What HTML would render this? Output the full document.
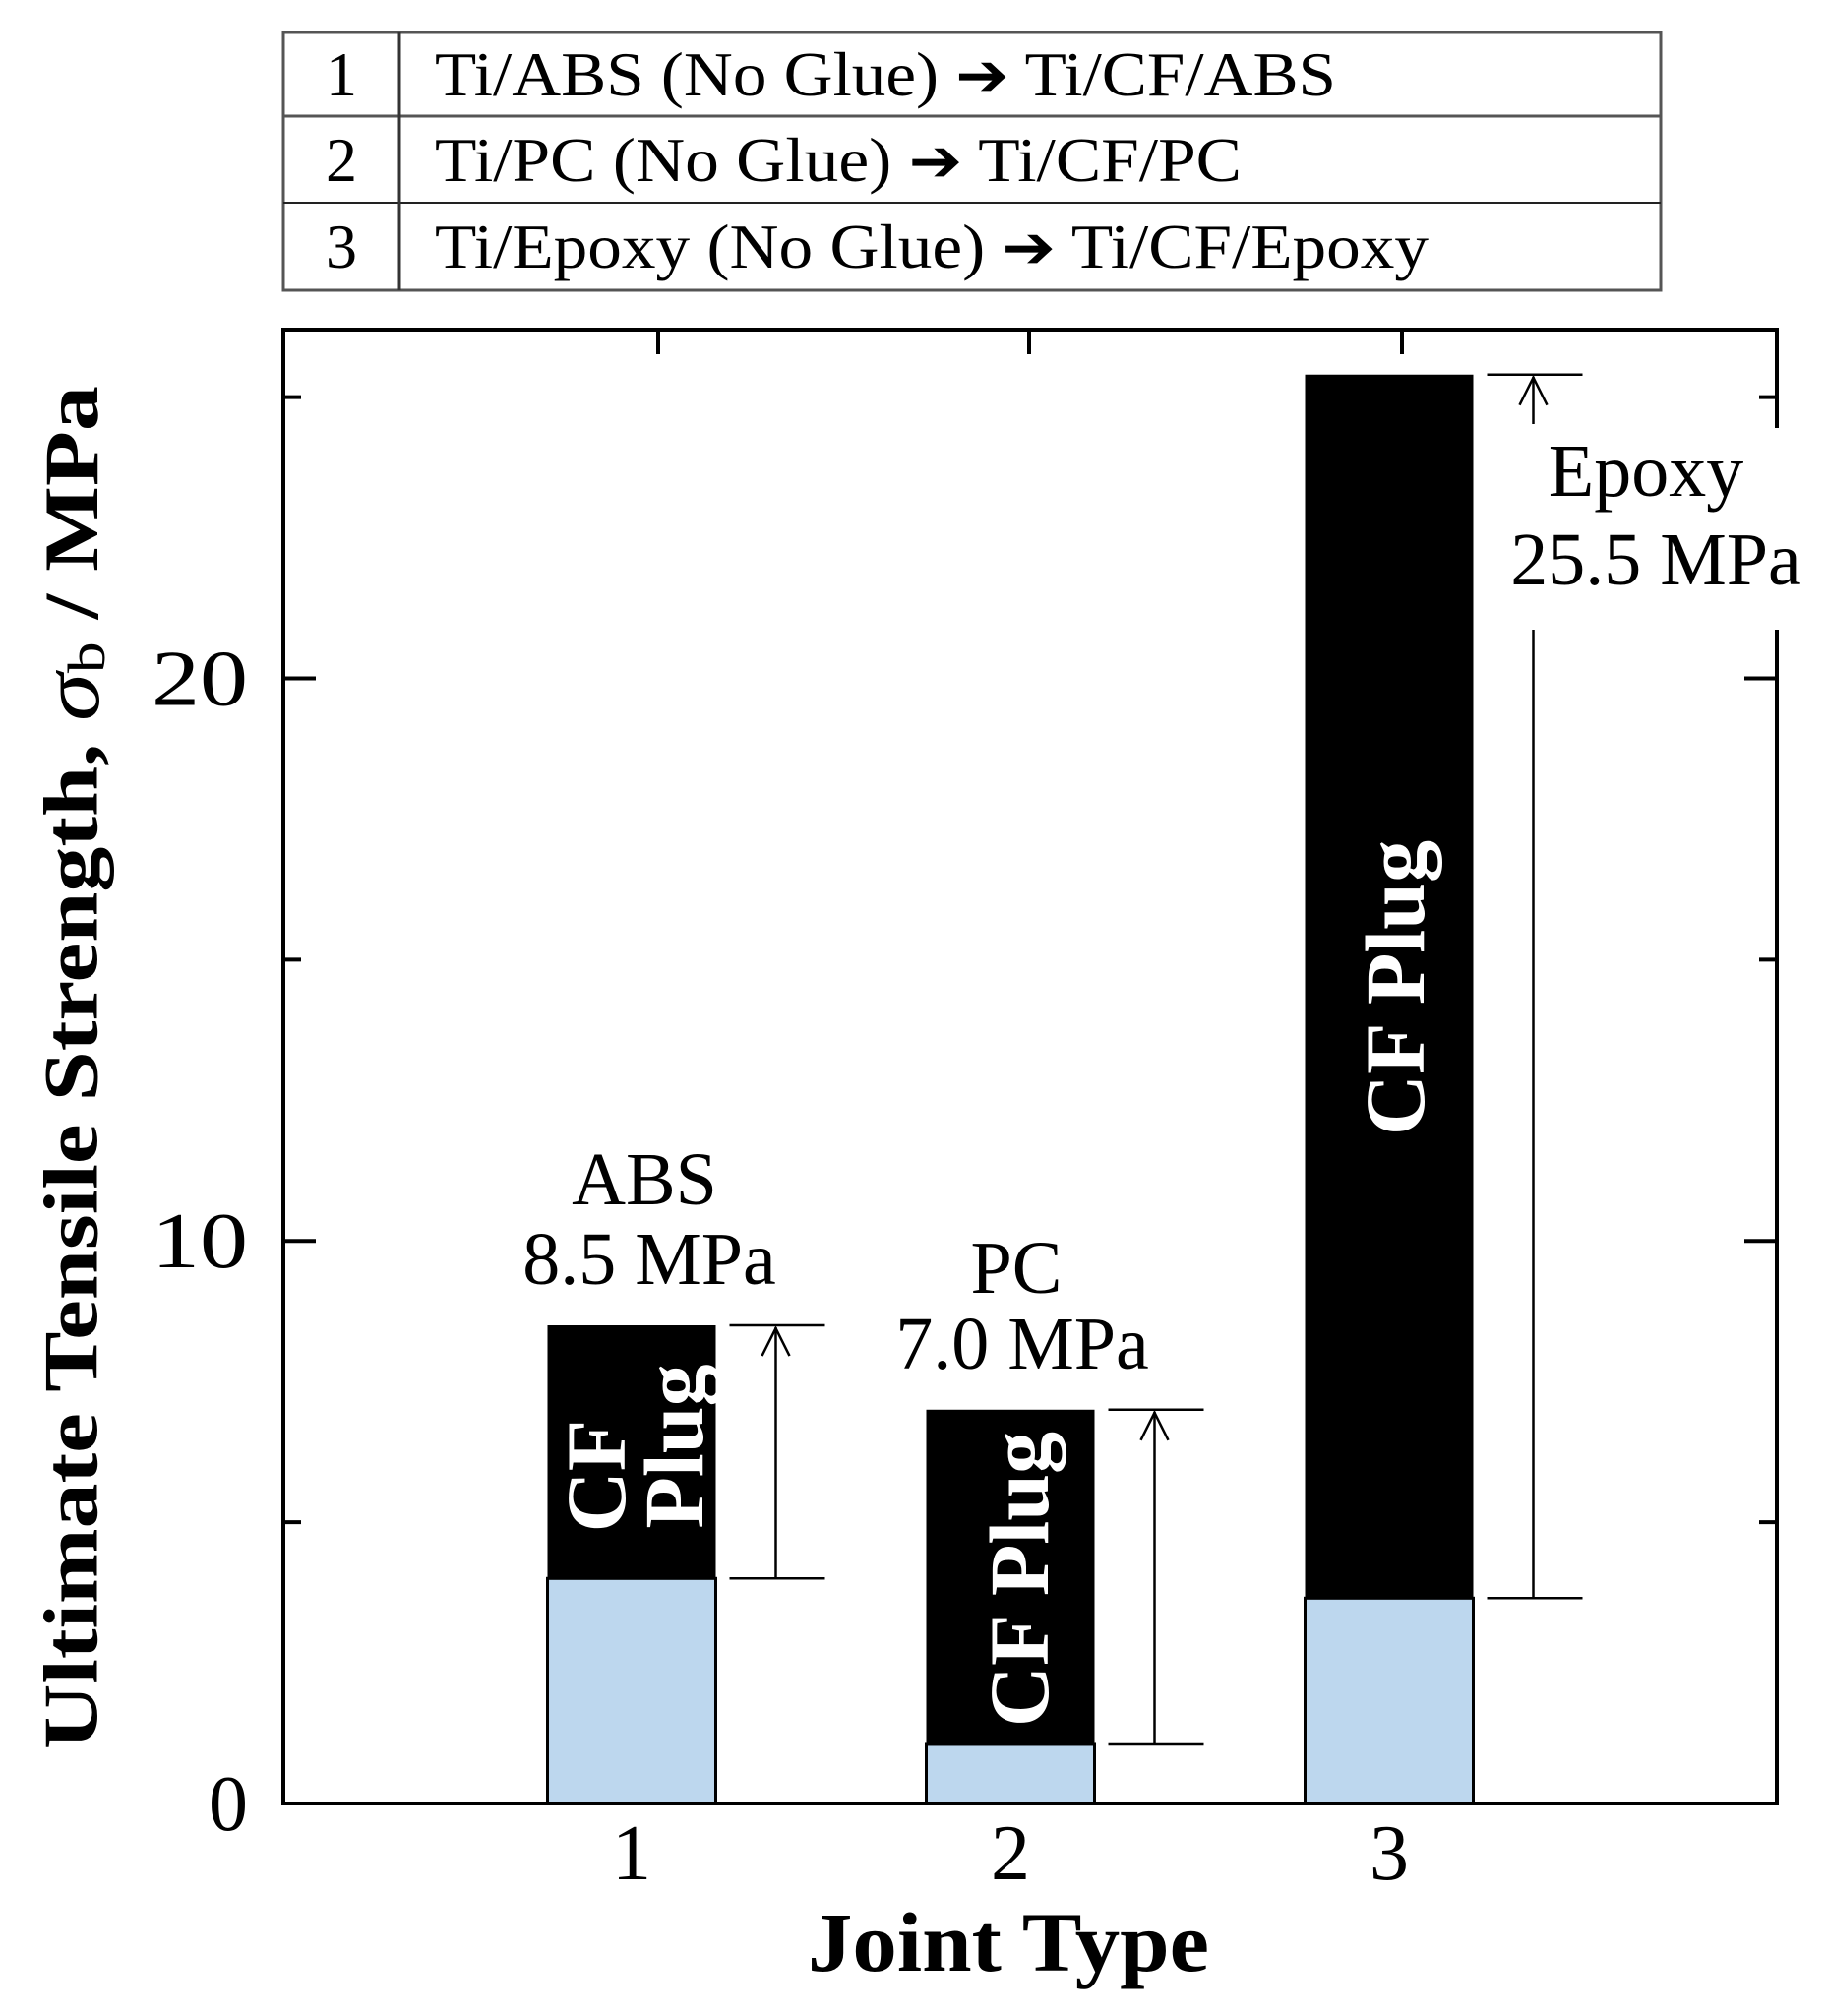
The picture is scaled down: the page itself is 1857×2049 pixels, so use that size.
<!DOCTYPE html>
<html><head><meta charset="utf-8"><style>
html,body{margin:0;padding:0;background:#fff;width:1857px;height:2049px;overflow:hidden}
svg{display:block;font-family:"Liberation Serif",serif}
</style></head><body>
<svg id="chart" width="1857" height="2049" viewBox="0 0 1857 2049" xmlns="http://www.w3.org/2000/svg">
<g font-size="64" fill="#000">
 <rect x="288" y="33" width="1400" height="262" fill="none" stroke="#555" stroke-width="3"/>
 <line x1="288" y1="118" x2="1688" y2="118" stroke="#555" stroke-width="3"/>
 <line x1="288" y1="206" x2="1688" y2="206" stroke="#222" stroke-width="2"/>
 <line x1="406" y1="33" x2="406" y2="295" stroke="#333" stroke-width="3"/>
 <text x="347" y="97" text-anchor="middle">1</text>
 <text x="442" y="97" textLength="916" lengthAdjust="spacingAndGlyphs">Ti/ABS (No Glue) <tspan font-family="DejaVu Sans" font-weight="bold" font-size="60">➔</tspan> Ti/CF/ABS</text>
 <text x="347" y="184" text-anchor="middle">2</text>
 <text x="442" y="184" textLength="820" lengthAdjust="spacingAndGlyphs">Ti/PC (No Glue) <tspan font-family="DejaVu Sans" font-weight="bold" font-size="60">➔</tspan> Ti/CF/PC</text>
 <text x="347" y="272" text-anchor="middle">3</text>
 <text x="442" y="272" textLength="1010" lengthAdjust="spacingAndGlyphs">Ti/Epoxy (No Glue) <tspan font-family="DejaVu Sans" font-weight="bold" font-size="60">➔</tspan> Ti/CF/Epoxy</text>
</g>
<g id="plot"></g>
</svg>
<script>
const categories = ["1","2","3"];
const totalValues = [8.5, 7.0, 25.4];
const baseValues = [4.0, 1.05, 3.65];
const materialLabels = ["ABS","PC","Epoxy"];
const valueLabels = ["8.5 MPa","7.0 MPa","25.5 MPa"];
const yTicks = [0, 10, 20];
const yMinorTicks = [5, 15, 25];

const L=288,R=1806,T=335,B=1833,yMax=26.2;
const y=v=>B-(v/yMax)*(B-T);
const x=i=>642+i*385;
const BW=171;
const NS="http://www.w3.org/2000/svg";
const plot=document.getElementById('plot');
function mk(tag,attrs,parent){const e=document.createElementNS(NS,tag);for(const k in attrs)e.setAttribute(k,attrs[k]);(parent||plot).appendChild(e);return e;}

categories.forEach((c,i)=>{
 const g=mk('g',{});
 
 
 const top=mk('rect',{x:x(i)-BW/2,y:y(totalValues[i]),width:BW,height:y(baseValues[i])-y(totalValues[i]),fill:'#000'},g);
 
 
 const base=mk('rect',{x:x(i)-BW/2,y:y(baseValues[i]),width:BW,height:B-y(baseValues[i]),fill:'#bdd7ee',stroke:'#000','stroke-width':3},g);
 
 
 const bx=x(i)+BW/2+14, vx=bx+47;
 const br=mk('g',{stroke:'#000','stroke-width':2.5,fill:'none'});
 
 
 mk('line',{x1:bx,x2:bx+97,y1:y(totalValues[i]),y2:y(totalValues[i])},br);
 mk('line',{x1:bx,x2:bx+97,y1:y(baseValues[i]),y2:y(baseValues[i])},br);
 if(i===2){
  mk('line',{x1:vx,x2:vx,y1:y(totalValues[i])+2,y2:431},br);
  mk('line',{x1:vx,x2:vx,y1:640,y2:y(baseValues[i])},br);
 } else {
  mk('line',{x1:vx,x2:vx,y1:y(totalValues[i])+2,y2:y(baseValues[i])},br);
 }
 const ay=y(totalValues[i])+3;
 mk('polyline',{points:`${vx-14},${ay+28} ${vx},${ay} ${vx+14},${ay+28}`},br);
});

const ax=mk('g',{stroke:'#000','stroke-width':4,fill:'none'});


mk('rect',{x:L,y:T,width:R-L,height:B-T},ax);
yTicks.forEach(v=>{mk('line',{x1:L,x2:L+33,y1:y(v),y2:y(v)},ax);mk('line',{x1:R,x2:R-33,y1:y(v),y2:y(v)},ax);});
yMinorTicks.forEach(v=>{mk('line',{x1:L,x2:L+18,y1:y(v),y2:y(v)},ax);mk('line',{x1:R,x2:R-18,y1:y(v),y2:y(v)},ax);});
[669,1046,1425].forEach(tx=>mk('line',{x1:tx,x2:tx,y1:T,y2:T+25},ax));
mk('rect',{x:R-6,y:435,width:12,height:205,fill:'#fff',stroke:'none'});

yTicks.forEach(v=>{
 const t=mk('text',{x:L-36,y:y(v)+27,'text-anchor':'end','font-size':80});
 
 
 if(v>0){t.setAttribute('textLength',String(v).length*49);t.setAttribute('lengthAdjust','spacingAndGlyphs');}
 t.textContent=v;
});
categories.forEach((c,i)=>{
 const t=mk('text',{x:x(i),y:1910,'text-anchor':'middle','font-size':80});
 
 
 t.textContent=c;
});

const labelPos=[[655,1224,660,1305],[1033,1314,1039,1391],[1673,504,1683,594]];
categories.forEach((c,i)=>{
 const p=labelPos[i];
 const a=mk('text',{x:p[0],y:p[1],'text-anchor':'middle','font-size':76});
 
 
 a.textContent=materialLabels[i];
 const b=mk('text',{x:p[2],y:p[3],'text-anchor':'middle','font-size':76});
 
 
 b.textContent=valueLabels[i];
});

function rot(txt,cx,cy,name){
 const t=mk('text',{x:0,y:0,'text-anchor':'middle','dominant-baseline':'central','font-size':86,'font-weight':'bold',fill:'#fff',transform:`translate(${cx},${cy}) rotate(-90)`});
 
 
 t.textContent=txt;
}
rot('CF',606,1500,'cf-plug-label-1a');
rot('Plug',685,1470,'cf-plug-label-1b');
rot('CF Plug',1036,1605,'cf-plug-label-2');
rot('CF Plug',1418,1004,'cf-plug-label-3');

const yt=mk('text',{x:0,y:0,'text-anchor':'middle','dominant-baseline':'central','font-size':78,'font-weight':'bold',textLength:1386,lengthAdjust:'spacingAndGlyphs',transform:'translate(72,1085) rotate(-90)'});


yt.innerHTML='Ultimate Tensile Strength, <tspan font-style="italic" font-weight="normal" font-size="84">σ</tspan><tspan font-weight="normal" font-size="54" dy="16">b</tspan><tspan dy="-16"> / MPa</tspan>';
const xt=mk('text',{x:1025,y:2003,'text-anchor':'middle','font-size':86,'font-weight':'bold',textLength:408,lengthAdjust:'spacingAndGlyphs'});


xt.textContent='Joint Type';
</script>
</body></html>
